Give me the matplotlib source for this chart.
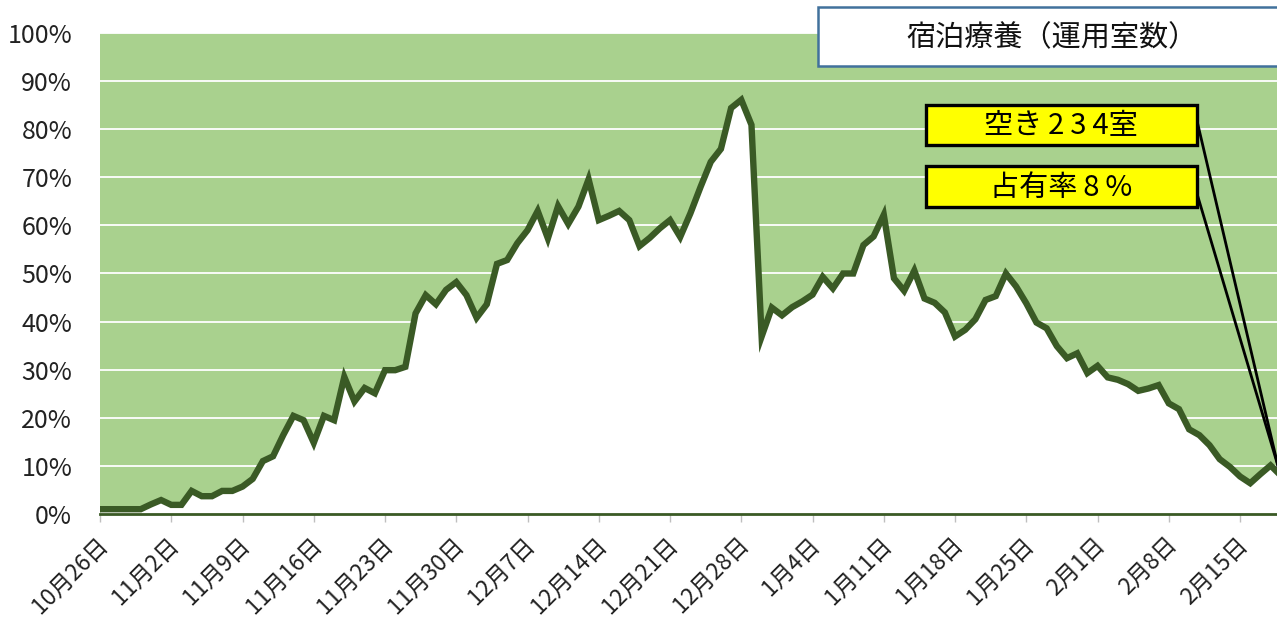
import numpy as np
import pandas as pd
import matplotlib
matplotlib.use("Agg")
import matplotlib.pyplot as plt
from matplotlib.patches import Rectangle
from matplotlib.lines import Line2D
from matplotlib.transforms import ScaledTranslation

plt.rcParams['font.family'] = ['Noto Sans CJK JP', 'DejaVu Sans']

# ---- data ----
start_date = "2020-10-26"
occupancy = [
    1.0, 1.0, 1.0, 1.0, 1.0, 2.0, 2.9, 1.9, 1.9, 4.8,
    3.7, 3.7, 4.8, 4.8, 5.7, 7.3, 11.0, 12.0, 16.4, 20.4,
    19.5, 14.8, 20.4, 19.5, 28.5, 23.4, 26.2, 25.1, 29.9, 29.9,
    30.6, 41.7, 45.5, 43.6, 46.6, 48.2, 45.5, 40.8, 43.6, 52.0,
    52.8, 56.3, 59.0, 63.0, 57.3, 64.0, 60.3, 63.9, 69.6, 61.1,
    62.0, 63.0, 61.1, 55.7, 57.4, 59.4, 61.1, 57.6, 62.5, 68.0,
    73.2, 75.9, 84.4, 86.1, 80.9, 36.9, 42.9, 41.3, 43.0, 44.2,
    45.6, 49.3, 46.9, 50.0, 50.0, 55.9, 57.7, 62.2, 49.0, 46.4,
    50.6, 44.8, 43.9, 41.9, 36.9, 38.3, 40.5, 44.5, 45.3, 50.0,
    47.3, 43.8, 39.8, 38.6, 34.9, 32.4, 33.4, 29.3, 30.8, 28.4,
    27.9, 27.0, 25.6, 26.1, 26.8, 23.0, 21.8, 17.6, 16.4, 14.3,
    11.4, 9.8, 7.8, 6.4, 8.3, 10.1, 8.0,
]
dates = pd.date_range(start_date, periods=len(occupancy), freq="D")
tick_step = 7
y_ticks = [0, 10, 20, 30, 40, 50, 60, 70, 80, 90, 100]
y_tick_labels = [f"{v}%" for v in y_ticks]
title_text = "宿泊療養（運用室数）"
callout_vacant = "空き\u20092\u20093\u20094室"
callout_rate = "占有率\u20098\u2009%"

# ---- figure ----
W, H = 1277, 619
fig = plt.figure(figsize=(W / 100, H / 100), dpi=100)

def fx(x):
    return x / W

def fy(y):
    return (H - y) / H

ax = fig.add_axes([fx(100), fy(514), fx(1277) - fx(100), fy(33) - fy(514)])

green_bg = "#A9D18E"
line_col = "#3A5A25"
ax.set_facecolor(green_bg)

x = np.arange(len(occupancy))
y = np.array(occupancy)
ax.fill_between(x, 0, y, color="white", lw=0, zorder=1)
ax.plot(x, y, color=line_col, lw=4.6, solid_joinstyle="miter", zorder=3)

ax.set_ylim(0, 100)
ax.set_xlim(0, 115.63)
ax.set_yticks(y_ticks)
ax.set_yticklabels(y_tick_labels, fontsize=18, color="#222222")
ax.tick_params(axis="y", length=0, pad=20)
ax.yaxis.grid(True, color="white", lw=1.3)
ax.set_axisbelow(True)

tick_pos = x[::tick_step]
tick_labels = [f"{d.month}月{d.day}日" for d in dates[::tick_step]]
ax.set_xticks(tick_pos)
ax.set_xticklabels(tick_labels, rotation=45, ha="right", va="top",
                   rotation_mode="anchor", fontsize=16.5, color="#222222")
ax.tick_params(axis="x", length=6, width=1, color="#BFBFBF", pad=4)
shift = ScaledTranslation(-4 / 100, -5 / 100, fig.dpi_scale_trans)
for lab in ax.get_xticklabels():
    lab.set_transform(lab.get_transform() + shift)

for s in ["top", "left", "right"]:
    ax.spines[s].set_visible(False)
ax.spines["bottom"].set_color(line_col)
ax.spines["bottom"].set_linewidth(2)
ax.spines["bottom"].set_zorder(4)

# ---- title box ----
fig.add_artist(Rectangle((fx(818), fy(66)), fx(1300) - fx(818), fy(7) - fy(66),
                         transform=fig.transFigure, fc="white", ec="#41719C",
                         lw=1.8, zorder=5))
fig.text(fx(1052), fy(38), title_text, ha="center", va="center",
         fontsize=21, color="#111111", zorder=6)

# ---- callouts ----
for (top, bot, txt) in [(105, 145, callout_vacant), (166, 207, callout_rate)]:
    fig.add_artist(Rectangle((fx(926), fy(bot)), fx(1197) - fx(926), fy(top) - fy(bot),
                             transform=fig.transFigure, fc="#FFFF00", ec="black",
                             lw=2.4, zorder=5))
    fig.text(fx(1061), fy((top + bot) / 2 + 1), txt, ha="center", va="center",
             fontsize=21, color="black", zorder=6)

for (x0, y0) in [(1198, 125), (1198, 197)]:
    fig.add_artist(Line2D([fx(x0), fx(1278)], [fy(y0), fy(466)],
                          transform=fig.transFigure, color="black", lw=2, zorder=4))

fig.savefig("out.png", dpi=100)
